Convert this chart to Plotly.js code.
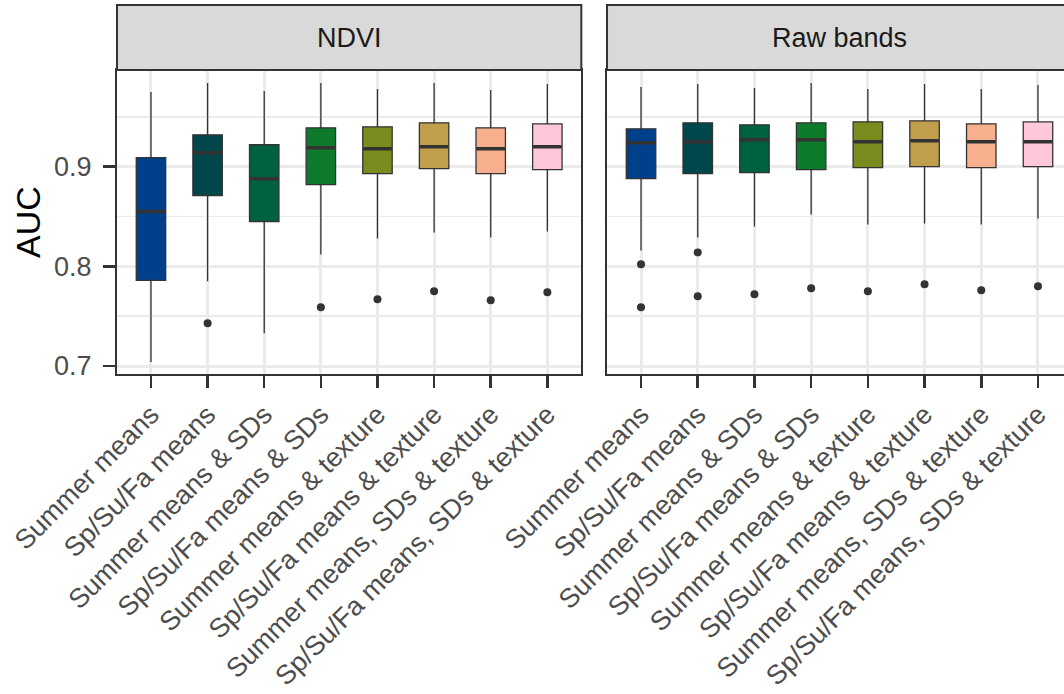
<!DOCTYPE html>
<html>
<head>
<meta charset="utf-8">
<script src="https://cdn.plot.ly/plotly-3.0.1.min.js"></script>
<style>
  html, body { margin: 0; padding: 0; overflow: hidden; background: #ffffff; }
  #chart { width: 1080px; height: 694px; }
</style>
</head>
<body>
<div id="chart"></div>
<script>
// ---- data ----
const categories = [
  'Summer means',
  'Sp/Su/Fa means',
  'Summer means & SDs',
  'Sp/Su/Fa means & SDs',
  'Summer means & texture',
  'Sp/Su/Fa means & texture',
  'Summer means, SDs & texture',
  'Sp/Su/Fa means, SDs & texture'
];
const panels = ['NDVI', 'Raw bands'];

const ndviLow    = [0.704, 0.785, 0.733, 0.812, 0.828, 0.834, 0.829, 0.835];
const ndviQ1     = [0.786, 0.871, 0.845, 0.882, 0.893, 0.898, 0.893, 0.897];
const ndviMedian = [0.855, 0.914, 0.888, 0.919, 0.918, 0.920, 0.918, 0.920];
const ndviQ3     = [0.909, 0.932, 0.922, 0.939, 0.940, 0.944, 0.939, 0.943];
const ndviHigh   = [0.975, 0.984, 0.976, 0.984, 0.978, 0.984, 0.977, 0.983];
const ndviOutCat = [1, 3, 4, 5, 6, 7];
const ndviOutVal = [0.743, 0.759, 0.767, 0.775, 0.766, 0.774];

const rawLow    = [0.816, 0.829, 0.840, 0.852, 0.842, 0.843, 0.842, 0.848];
const rawQ1     = [0.888, 0.893, 0.894, 0.897, 0.899, 0.900, 0.899, 0.900];
const rawMedian = [0.924, 0.925, 0.927, 0.927, 0.925, 0.926, 0.925, 0.925];
const rawQ3     = [0.938, 0.944, 0.942, 0.944, 0.945, 0.946, 0.943, 0.945];
const rawHigh   = [0.980, 0.983, 0.979, 0.984, 0.978, 0.983, 0.978, 0.982];
const rawOutCat = [0, 0, 1, 1, 2, 3, 4, 5, 6, 7];
const rawOutVal = [0.802, 0.759, 0.814, 0.770, 0.772, 0.778, 0.775, 0.782, 0.776, 0.780];

const yTicks = [0.7, 0.8, 0.9];

// ---- style ----
const palette = ['#003F8A', '#00474B', '#00613F', '#0E7A2C', '#7A8C1D', '#C09E4B', '#F8AF8E', '#FFC7DB'];
const ink = '#333333';

function panelTraces(xa, ya, low, q1, med, q3, high, outCat, outVal) {
  const tr = [];
  categories.forEach((c, i) => {
    tr.push({
      type: 'box', xaxis: xa, yaxis: ya,
      x: [c], lowerfence: [low[i]], q1: [q1[i]], median: [med[i]], q3: [q3[i]], upperfence: [high[i]],
      fillcolor: palette[i], line: { color: ink, width: 1.3 },
      width: 0.52, whiskerwidth: 0, boxpoints: false,
      showlegend: false, hoverinfo: 'skip'
    });
  });
  // thick median bars
  tr.push({
    type: 'box', xaxis: xa, yaxis: ya,
    x: categories, lowerfence: med, q1: med, median: med, q3: med, upperfence: med,
    fillcolor: 'rgba(0,0,0,0)', line: { color: ink, width: 3.5 },
    width: 0.5, whiskerwidth: 0, boxpoints: false,
    showlegend: false, hoverinfo: 'skip'
  });
  tr.push({
    type: 'scatter', mode: 'markers', xaxis: xa, yaxis: ya,
    x: outCat.map(k => categories[k]), y: outVal,
    marker: { color: ink, size: 8 },
    showlegend: false, hoverinfo: 'skip', cliponaxis: false
  });
  return tr;
}

const data = [].concat(
  panelTraces('x', 'y', ndviLow, ndviQ1, ndviMedian, ndviQ3, ndviHigh, ndviOutCat, ndviOutVal),
  panelTraces('x2', 'y2', rawLow, rawQ1, rawMedian, rawQ3, rawHigh, rawOutCat, rawOutVal)
);

const font = 'Liberation Sans, Arial, Helvetica, sans-serif';
const d1 = [0, 0.4862], d2 = [0.5131, 1];
const tickSize = 27;

function xAxis(domain, anchor) {
  return {
    domain: domain, anchor: anchor, type: 'category',
    categoryorder: 'array', categoryarray: categories,
    range: [-0.6, 7.6], fixedrange: true,
    showgrid: true, gridcolor: '#EBEBEB', gridwidth: 3,
    showline: true, mirror: true, linecolor: ink, linewidth: 2,
    ticks: 'outside', ticklen: 12, tickwidth: 2.5, tickcolor: ink,
    tickangle: -45, tickfont: { family: font, size: tickSize, color: '#4D4D4D' },
    zeroline: false
  };
}
function yAxis(anchor, labels) {
  const a = {
    anchor: anchor, range: [0.692, 0.997], fixedrange: true,
    tickmode: 'array', tickvals: yTicks, ticktext: yTicks.map(v => v.toFixed(1)),
    showgrid: true, gridcolor: '#EBEBEB', gridwidth: 3,
    minor: { tickmode: 'array', tickvals: [0.75, 0.85, 0.95], showgrid: true, gridcolor: '#EBEBEB', gridwidth: 1.5, ticks: '' },
    showline: true, mirror: true, linecolor: ink, linewidth: 2,
    ticks: labels ? 'outside' : '', ticklen: 12, tickwidth: 2.5, tickcolor: ink,
    showticklabels: labels,
    tickfont: { family: font, size: tickSize, color: '#4D4D4D' },
    zeroline: false
  };
  if (labels) {
    a.title = { text: 'AUC', font: { family: font, size: 34, color: '#000000' }, standoff: 3 };
    a.ticklabelstandoff = 6;
  } else {
    a.matches = 'y';
  }
  return a;
}

const stripTop = 1.2138;
const layout = {
  width: 1080, height: 694,
  margin: { l: 117, r: 8, t: 70, b: 320 },
  paper_bgcolor: '#ffffff', plot_bgcolor: '#ffffff',
  font: { family: font },
  boxmode: 'overlay',
  xaxis: xAxis(d1, 'y'),
  xaxis2: xAxis(d2, 'y2'),
  yaxis: yAxis('x', true),
  yaxis2: yAxis('x2', false),
  shapes: [
    { type: 'rect', xref: 'paper', yref: 'paper', x0: d1[0], x1: d1[1], y0: 1, y1: stripTop,
      fillcolor: '#D9D9D9', line: { color: ink, width: 2 }, layer: 'above' },
    { type: 'rect', xref: 'paper', yref: 'paper', x0: d2[0], x1: d2[1], y0: 1, y1: stripTop,
      fillcolor: '#D9D9D9', line: { color: ink, width: 2 }, layer: 'above' }
  ],
  annotations: [
    { xref: 'paper', yref: 'paper', x: (d1[0] + d1[1]) / 2, y: (1 + stripTop) / 2, text: panels[0],
      showarrow: false, xanchor: 'center', yanchor: 'middle', font: { family: font, size: 27, color: '#1A1A1A' } },
    { xref: 'paper', yref: 'paper', x: (d2[0] + d2[1]) / 2, y: (1 + stripTop) / 2, text: panels[1],
      showarrow: false, xanchor: 'center', yanchor: 'middle', font: { family: font, size: 27, color: '#1A1A1A' } }
  ]
};

Plotly.newPlot('chart', data, layout, { staticPlot: true, displayModeBar: false });
</script>
</body>
</html>
